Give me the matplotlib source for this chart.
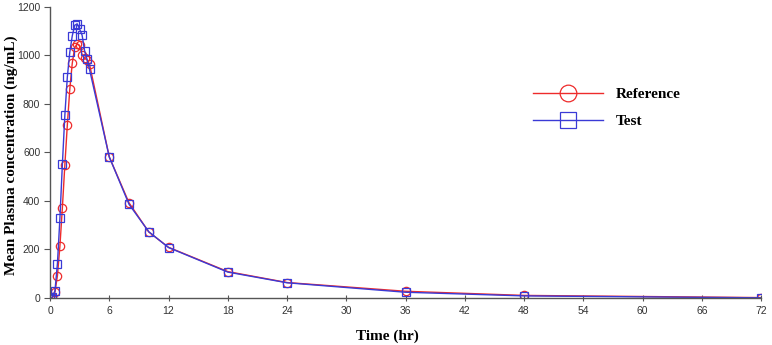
import matplotlib
matplotlib.use("Agg")
import matplotlib.pyplot as plt

# sampling times (hr)
time_hr = [0, 0.25, 0.5, 0.75, 1.0, 1.25, 1.5, 1.75, 2.0, 2.25, 2.5, 2.75,
           3.0, 3.25, 3.5, 3.75, 4.0, 6, 8, 10, 12, 18, 24, 36, 48, 72]

# mean plasma concentration (ng/mL)
reference = [0, 3, 25, 92, 213, 372, 547, 711, 859, 966, 1032, 1045,
             1040, 1002, 988, 980, 962, 581, 392, 272, 209, 109, 64, 28, 11, 2]
test = [0, 5, 30, 142, 328, 550, 752, 909, 1012, 1079, 1123, 1129,
        1107, 1082, 1018, 983, 941, 581, 386, 273, 208, 107, 63, 24, 9, 1]

x_ticks = list(range(0, 73, 6))
y_ticks = list(range(0, 1201, 200))

RED = "#ee2b2b"
BLUE = "#3a3ad6"
SERIF = ["Liberation Serif", "DejaVu Serif"]
SANS = ["Liberation Sans", "DejaVu Sans"]

fig = plt.figure(figsize=(7.72, 3.45), dpi=100)
ax = fig.add_axes([0.0648, 0.136, 0.921, 0.845])

ax.plot(time_hr, reference, color=RED, lw=1.0, marker="o", ms=6,
        mfc="none", mec=RED, mew=0.9, label="Reference")
ax.plot(time_hr, test, color=BLUE, lw=1.0, marker="s", ms=5.5,
        mfc="none", mec=BLUE, mew=0.9, label="Test")

ax.set_xlim(0, 72)
ax.set_ylim(0, 1200)
ax.set_xticks(x_ticks)
ax.set_yticks(y_ticks)
for s in ("top", "right"):
    ax.spines[s].set_visible(False)
for s in ("left", "bottom"):
    ax.spines[s].set_color("#555555")
    ax.spines[s].set_linewidth(1.0)
ax.tick_params(axis="x", direction="inout", length=5, colors="#555555",
               labelcolor="#333333", labelsize=7.5, pad=3)
ax.tick_params(axis="y", direction="out", length=4, colors="#555555",
               labelcolor="#333333", labelsize=7.5, pad=3)
for lab in ax.get_xticklabels() + ax.get_yticklabels():
    lab.set_family(SANS)

fig.text(0.502, 0.025, "Time (hr)", ha="center", va="center",
         family=SERIF, fontweight="bold", fontsize=11)
fig.text(0.014, 0.55, "Mean Plasma concentration (ng/mL)", rotation=90,
         ha="center", va="center", family=SERIF, fontweight="bold", fontsize=11)

ax.legend(loc="upper left", bbox_to_anchor=(0.66, 0.77), frameon=False,
          handlelength=4.6, markerscale=2.0, labelspacing=0.9,
          prop={"family": SERIF, "weight": "bold", "size": 11})

fig.savefig("out.png", dpi=100)
